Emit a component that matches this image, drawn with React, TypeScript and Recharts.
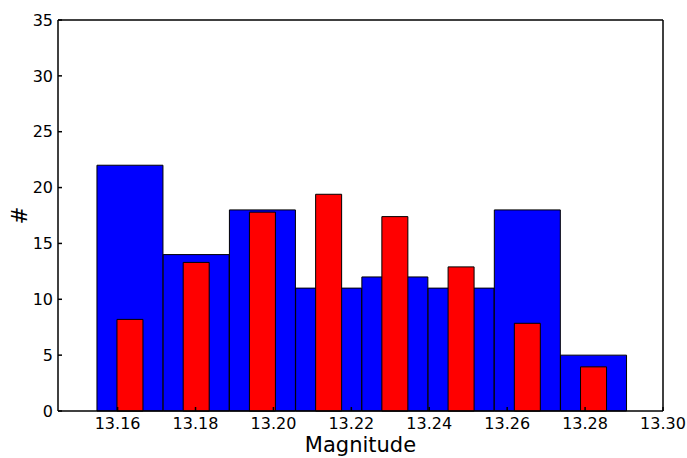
import { ComposedChart, Bar, XAxis, YAxis } from 'recharts';

// bin centres of the histogram (magnitude)
const binCenters = [13.1632, 13.1802, 13.1972, 13.2142, 13.2312, 13.2482, 13.2652, 13.2822];
const blueCounts = [22, 14, 18, 11, 12, 11, 18, 5];
const redCounts = [8.2, 13.3, 17.8, 19.4, 17.4, 12.9, 7.85, 3.95];

const xTicks = [13.16, 13.18, 13.2, 13.22, 13.24, 13.26, 13.28, 13.3];
const yTicks = [0, 5, 10, 15, 20, 25, 30, 35];
const xDomain = [13.1447, 13.3];

const data = binCenters.map((m, i) => ({ mag: m, blue: blueCounts[i], red: redCounts[i] }));

const font = 'DejaVu Sans, sans-serif';

function HashLabel(props: any) {
  const vb = props.viewBox || {};
  const x = vb.x + 20;
  const y = vb.y + vb.height / 2;
  return (
    <text
      x={x}
      y={y}
      transform={`rotate(-90 ${x} ${y})`}
      textAnchor="middle"
      dominantBaseline="central"
      fontFamily={font}
      fontSize={21}
      fill="#000"
    >
      #
    </text>
  );
}

export default function App() {
  return (
    <div style={{ position: 'absolute', left: 0, top: 0 }}>
      <ComposedChart
        width={687}
        height={458}
        data={data}
        margin={{ top: 19, right: 23, bottom: 0, left: 0 }}
        barCategoryGap={0}
        barGap={0}
        style={{ fontFamily: font }}
      >
        <XAxis
          xAxisId="bottom"
          dataKey="mag"
          type="number"
          domain={xDomain}
          allowDataOverflow
          ticks={xTicks}
          interval={0}
          tickFormatter={(v: number) => v.toFixed(2)}
          height={47}
          stroke="#000"
          strokeWidth={1.5}
          tickSize={-4}
          tickMargin={11}
          tick={{ fill: '#000', fontSize: 16, fontFamily: font }}
          label={{ value: 'Magnitude', position: 'insideBottom', offset: 6, fill: '#000', fontSize: 21, fontFamily: font }}
        />
        <XAxis
          xAxisId="top"
          orientation="top"
          dataKey="mag"
          type="number"
          domain={xDomain}
          allowDataOverflow
          ticks={xTicks}
          interval={0}
          height={1}
          stroke="#000"
          strokeWidth={1.5}
          tickSize={-4}
          tick={false}
        />
        <YAxis
          yAxisId="left"
          domain={[0, 35]}
          ticks={yTicks}
          interval={0}
          width={58}
          stroke="#000"
          strokeWidth={1.5}
          tickSize={-4}
          tickMargin={9}
          tick={{ fill: '#000', fontSize: 16, fontFamily: font }}
          label={<HashLabel />}
        />
        <YAxis
          yAxisId="right"
          orientation="right"
          domain={[0, 35]}
          ticks={yTicks}
          interval={0}
          width={1}
          stroke="#000"
          strokeWidth={1.5}
          tickSize={-4}
          tick={false}
        />
        <Bar
          xAxisId="bottom"
          yAxisId="left"
          dataKey="blue"
          fill="#0000ff"
          stroke="#000"
          strokeWidth={1}
          isAnimationActive={false}
        />
        <Bar
          xAxisId="top"
          yAxisId="right"
          dataKey="red"
          fill="#ff0000"
          stroke="#000"
          strokeWidth={1}
          barSize={26}
          isAnimationActive={false}
        />
      </ComposedChart>
    </div>
  );
}
